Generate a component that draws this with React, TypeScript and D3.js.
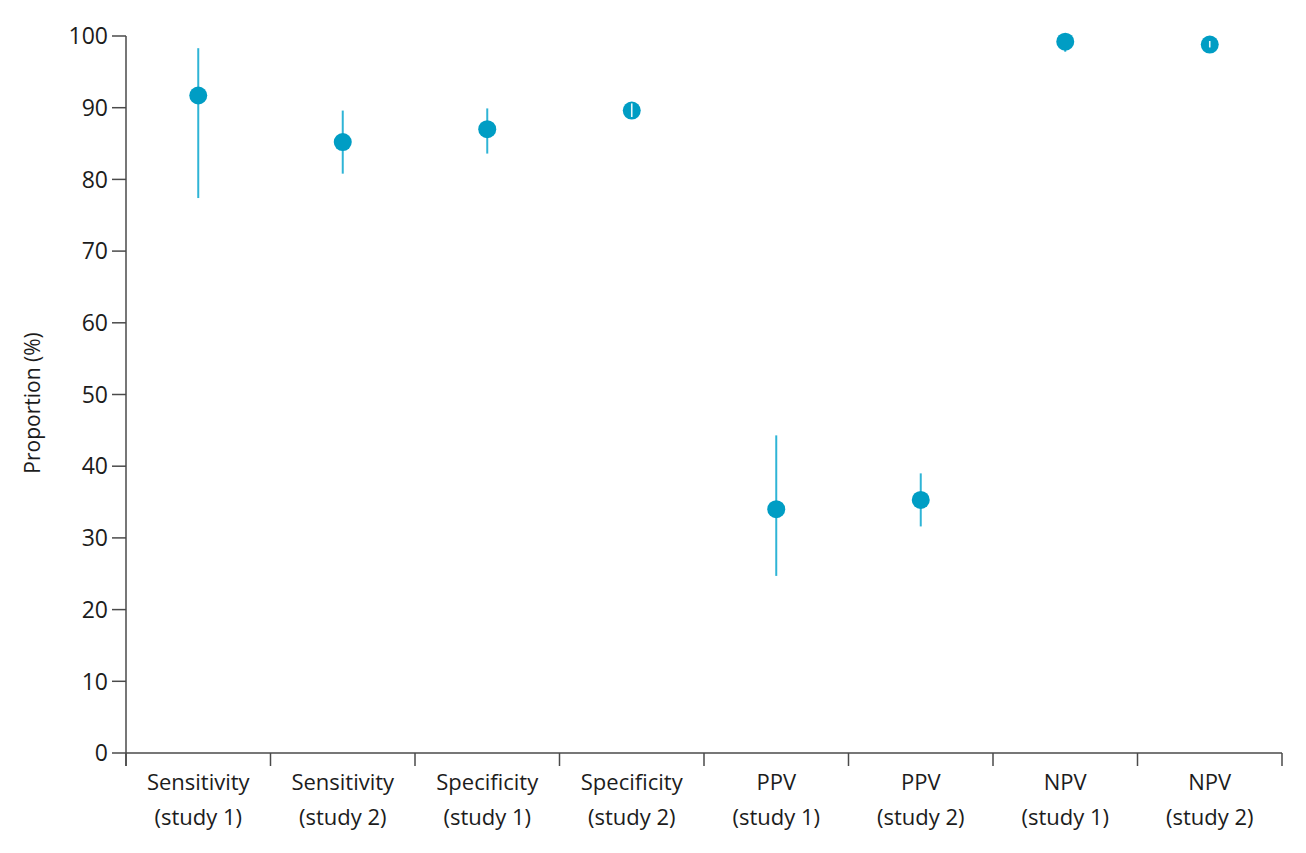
import { useEffect, useRef } from 'react';
import * as d3 from 'd3';

const W = 1306;
const H = 853;
const M = { top: 36, right: 24, bottom: 100, left: 126 };

const categories = [
  ['Sensitivity', '(study 1)'],
  ['Sensitivity', '(study 2)'],
  ['Specificity', '(study 1)'],
  ['Specificity', '(study 2)'],
  ['PPV', '(study 1)'],
  ['PPV', '(study 2)'],
  ['NPV', '(study 1)'],
  ['NPV', '(study 2)'],
];
const estimates = [91.7, 85.2, 87.0, 89.6, 34.0, 35.3, 99.2, 98.8];
const lower = [77.4, 80.8, 83.6, 88.7, 24.7, 31.6, 97.8, 98.4];
const upper = [98.3, 89.6, 89.9, 90.6, 44.3, 39.0, 99.8, 99.3];
const yTicks = [0, 10, 20, 30, 40, 50, 60, 70, 80, 90, 100];

const DOT = '#009dc4';
const LINE = '#2fb4d6';
const AXIS = '#4a4a4a';
const TEXT = '#1c1c1c';
const FONT = '"Open Sans", "Noto Sans", sans-serif';
const R = 9;

export default function App() {
  const ref = useRef<SVGSVGElement>(null);

  useEffect(() => {
    const svg = d3.select(ref.current);
    svg.selectAll('*').remove();

    const x0 = M.left;
    const x1 = W - M.right;
    const yBottom = 753;
    const x = d3.scaleBand<number>().domain(d3.range(categories.length)).range([x0, x1]);
    const y = d3.scaleLinear().domain([0, 100]).range([yBottom, M.top]);

    const g = svg.append('g');

    // y axis
    g.append('line')
      .attr('x1', x0).attr('x2', x0)
      .attr('y1', y(100)).attr('y2', yBottom + 13)
      .attr('stroke', AXIS).attr('stroke-width', 1.5);
    yTicks.forEach(t => {
      g.append('line')
        .attr('x1', x0 - 14).attr('x2', x0)
        .attr('y1', y(t)).attr('y2', y(t))
        .attr('stroke', AXIS).attr('stroke-width', 1.5);
      g.append('text')
        .attr('x', x0 - 18).attr('y', y(t))
        .attr('dy', '0.36em')
        .attr('text-anchor', 'end')
        .attr('fill', TEXT)
        .style('font-size', '23px').style('font-family', FONT)
        .text(t);
    });

    // x axis
    g.append('line')
      .attr('x1', x0).attr('x2', x1)
      .attr('y1', yBottom).attr('y2', yBottom)
      .attr('stroke', AXIS).attr('stroke-width', 1.5);
    d3.range(categories.length + 1).forEach(i => {
      const xx = x0 + i * x.bandwidth();
      g.append('line')
        .attr('x1', xx).attr('x2', xx)
        .attr('y1', yBottom).attr('y2', yBottom + 13)
        .attr('stroke', AXIS).attr('stroke-width', 1.5);
    });
    categories.forEach((c, i) => {
      const cx = x(i)! + x.bandwidth() / 2;
      c.forEach((line, j) => {
        g.append('text')
          .attr('x', cx).attr('y', 790 + j * 35)
          .attr('text-anchor', 'middle')
          .attr('fill', TEXT)
          .style('font-size', '22px').style('font-family', FONT)
          .text(line);
      });
    });

    // y label
    g.append('text')
      .attr('transform', 'translate(40,403) rotate(-90)')
      .attr('text-anchor', 'middle')
      .attr('fill', TEXT)
      .style('font-size', '21px').style('font-family', FONT)
      .text('Proportion (%)');

    // intervals and points
    estimates.forEach((v, i) => {
      const cx = x(i)! + x.bandwidth() / 2;
      const inside = y(upper[i]) > y(v) - R && y(lower[i]) < y(v) + R;
      g.append('line')
        .attr('x1', cx).attr('x2', cx)
        .attr('y1', y(upper[i])).attr('y2', y(lower[i]))
        .attr('stroke', LINE).attr('stroke-width', 2);
      g.append('circle')
        .attr('cx', cx).attr('cy', y(v)).attr('r', R)
        .attr('fill', DOT);
      if (inside) {
        g.append('line')
          .attr('x1', cx).attr('x2', cx)
          .attr('y1', y(upper[i])).attr('y2', y(lower[i]))
          .attr('stroke', '#e8f7fb').attr('stroke-width', 1.6);
      }
    });
  }, []);

  return (
    <div style={{ position: 'absolute', left: 0, top: 0, background: '#fff' }}>
      <svg ref={ref} width={W} height={H} />
    </div>
  );
}
